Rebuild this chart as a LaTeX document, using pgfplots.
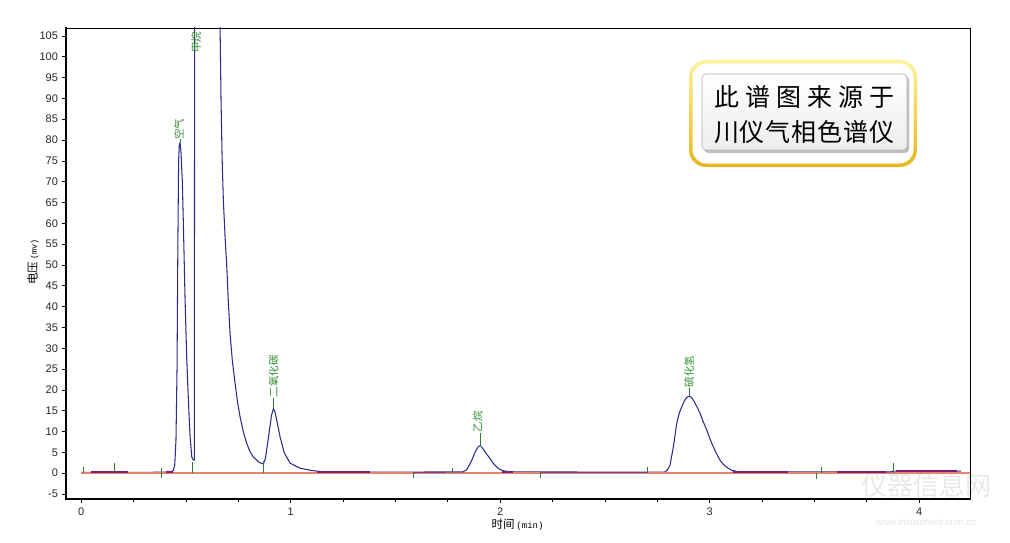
\documentclass[border=0pt]{standalone}
\usepackage{pgfplots}
\pgfplotsset{compat=1.18}
\usepackage{pgfplotstable}
\usepackage{fontspec}
\setmainfont{Liberation Sans}
\newfontfamily\cjk{Noto Sans CJK SC}
\newfontfamily\mono{Liberation Mono}
\definecolor{sig}{HTML}{2B2B8A}
\definecolor{basered}{HTML}{E8826E}
\definecolor{basepur}{HTML}{7A1E7A}
\definecolor{mkgreen}{HTML}{2E7D32}
\definecolor{labgreen}{HTML}{2F8F2F}
\definecolor{goldA}{HTML}{FFF29A}
\definecolor{goldB}{HTML}{E3B81C}

\pgfplotstableread{
t v
0.000 0.2
0.100 0.2
0.300 0.2
0.420 0.25
0.440 0.6
0.447 2.0
0.453 8
0.458 25
0.462 55
0.4655 75
0.469 79
0.4726 79.3
0.477 77
0.4835 69.7
0.490 56
0.4964 41.6
0.504 28
0.5122 17.5
0.520 9
0.5284 3.9
0.5360 3.1
0.5405 3.2
0.5425 150
0.600 600
0.6560 200
0.6635 107
0.668 89.6
0.673 76
0.679 65.6
0.687 57
0.6955 49.6
0.703 41
0.711 33.6
0.722 27
0.735 21.6
0.747 17
0.759 13.5
0.775 9.8
0.791 7.1
0.806 5.2
0.8225 3.9
0.850 2.6
0.870 2.2
0.880 3.6
0.8926 7.9
0.909 13.9
0.918 15.5
0.925 14.8
0.935 12.5
0.9499 8.7
0.969 5.0
0.9976 2.4
1.045 1.2
1.093 0.7
1.140 0.4
1.400 0.25
1.822 0.3
1.840 0.8
1.857 2.3
1.870 3.7
1.881 5.1
1.895 6.3
1.905 6.6
1.915 6.1
1.930 5.0
1.952 3.5
1.970 2.2
1.992 1.1
2.014 0.6
2.050 0.3
2.780 0.25
2.788 0.3
2.800 0.9
2.811 1.9
2.827 6.3
2.843 11.9
2.855 14.4
2.867 15.9
2.880 17.4
2.891 18.2
2.904 18.5
2.915 18.1
2.923 17.5
2.940 15.9
2.955 14.3
2.970 12.3
2.987 10.3
3.002 8.2
3.018 6.3
3.034 4.6
3.050 3.1
3.066 2.1
3.082 1.4
3.105 0.7
3.130 0.4
3.200 0.3
3.860 0.3
3.880 0.5
4.200 0.5
}\signal

\begin{document}
\begin{tikzpicture}
\useasboundingbox (-66pt,-43pt) rectangle (944pt,499pt);
% watermark (faint)
\node[text=black!9, font=\cjk\fontsize{26}{26}\selectfont] at (860pt,13pt) {仪器信息网};
\node[text=black!10, font=\fontsize{9.5}{10}\selectfont] at (860pt,-23pt) {www.instrument.com.cn};
\begin{axis}[
  scale only axis, width=904pt, height=471pt,
  xmin=-0.072, xmax=4.243, ymin=-6.2, ymax=106.9,
  xtick={0,1,2,3,4}, minor x tick num=3,
  ytick={-5,0,...,105},
  tick align=outside, xtick pos=bottom, ytick pos=left,
  major tick length=4pt, minor tick length=2.5pt,
  tick style={black, line width=0.6pt},
  axis line style={line width=0.8pt},
  tick label style={font=\fontsize{11}{13}\selectfont, text=black!85},
  /pgf/number format/assume math mode=true,
  yticklabel style={xshift=-0.5pt},
  xticklabel style={yshift=-1pt},
  unbounded coords=jump,
]
% red baseline (full)
\addplot[basered, line width=1.4pt] coordinates {(0,0) (4.243,0)};
% signal
\addplot[sig, line width=1.05pt] table[x=t, y=v] {\signal};
% red baseline segments on top
\addplot[basered, line width=1.4pt] coordinates {
(0,0) (0.048,0) (0.048,nan)
(0.226,0) (0.405,0) (0.405,nan)
(1.38,0) (1.586,0) (1.586,nan)
(2.06,0) (2.191,0) (2.191,nan)
(2.705,0) (2.788,0) (2.788,nan)
(3.375,0) (3.61,0) (3.61,nan)
(4.18,0) (4.243,0)
};
% purple baseline segments
\addplot[basepur, line width=1.5pt] coordinates {
(0.048,0.3) (0.226,0.3) (0.226,nan)
(0.405,0.3) (0.438,0.3) (0.438,nan)
(1.125,0.3) (1.38,0.3) (1.38,nan)
(2.01,0.3) (2.06,0.3) (2.06,nan)
(3.11,0.3) (3.375,0.3) (3.375,nan)
(3.61,0.3) (3.84,0.3) (3.84,nan)
(3.89,0.5) (4.18,0.5)
};
% integration event markers
\addplot[mkgreen, line width=0.9pt] coordinates {
(0.010,0) (0.010,1.4) (0.010,nan)
(0.159,0.2) (0.159,2.4) (0.159,nan)
(0.382,-1.2) (0.382,1.2) (0.382,nan)
(0.533,0.1) (0.533,2.7) (0.533,nan)
(0.870,0.1) (0.870,3.0) (0.870,nan)
(1.586,-1.1) (1.586,0.1) (1.586,nan)
(1.774,0.1) (1.774,1.3) (1.774,nan)
(2.191,-1.1) (2.191,0.1) (2.191,nan)
(2.705,0.1) (2.705,1.4) (2.705,nan)
(3.508,-1.4) (3.508,0) (3.508,nan)
(3.532,0) (3.532,1.4) (3.532,nan)
(3.877,0.1) (3.877,2.4) (3.877,nan)
(0.4726,79.3) (0.4726,80.2) (0.4726,nan)
(0.918,15.6) (0.918,18.0) (0.918,nan)
(1.905,6.7) (1.905,9.6) (1.905,nan)
(2.904,18.5) (2.904,20.4)
};
% peak labels
\begin{scope}[every node/.style={rotate=90, anchor=west, inner sep=0pt, text=labgreen, font=\cjk\fontsize{10.5}{11}\selectfont}]
\node at (axis cs:0.4678,80.0) {空气};
\node at (axis cs:0.549,100.9) {甲烷};
\node at (axis cs:0.919,18.2) {二氧化碳};
\node at (axis cs:1.893,9.8) {乙烷};
\node at (axis cs:2.902,20.6) {硫化氢};
\end{scope}
\end{axis}
% thicker left and bottom spines
\draw[line width=1.8pt, line cap=rect] (0pt,471pt) -- (0pt,0pt) -- (904pt,0pt);
% axis labels
\node[rotate=90, inner sep=0pt] at (-33pt,237pt) {\cjk\fontsize{11.5}{13}\selectfont 电压\,{\mono\fontsize{8.5}{9}\selectfont(mv)}};
\node[inner sep=0pt] at (451.5pt,-25.5pt) {\cjk\fontsize{11.5}{13}\selectfont 时间\,{\mono\fontsize{9}{10}\selectfont(min)}};
% info box
\shade[rounded corners=17pt, top color=goldA, bottom color=goldB] (623pt,332pt) rectangle (851pt,439pt);
\fill[white, rounded corners=14pt] (626.5pt,335.5pt) rectangle (847.5pt,435.5pt);
\fill[black!25, rounded corners=4pt] (638pt,346pt) rectangle (843pt,423pt);
\shade[rounded corners=4pt, top color=white, bottom color=black!7, draw=black!30, line width=0.6pt] (636pt,349pt) rectangle (841pt,425pt);
\node[inner sep=0pt] at (738pt,402pt) {\cjk\fontsize{25}{25}\selectfont\makebox[180pt][s]{此\hfill 谱\hfill 图\hfill 来\hfill 源\hfill 于}};
\node[inner sep=0pt] at (738pt,367pt) {\cjk\fontsize{25}{25}\selectfont\makebox[180pt][s]{川\hfill 仪\hfill 气\hfill 相\hfill 色\hfill 谱\hfill 仪}};
\end{tikzpicture}
\end{document}
